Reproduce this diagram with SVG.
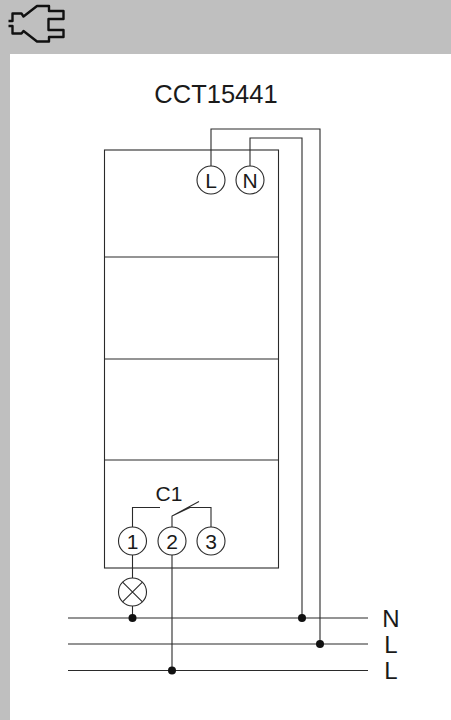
<svg xmlns="http://www.w3.org/2000/svg" width="451" height="720" viewBox="0 0 451 720">
<style>
.l{fill:none;stroke:#2a2a2a;stroke-width:1.1}
.c{fill:#fff;stroke:#2a2a2a;stroke-width:1.1}
.d{fill:#111;stroke:none}
text{font-family:"Liberation Sans",Arial,sans-serif;fill:#1a1a1a;text-anchor:middle}
.t{font-size:25.500px}
.m{font-size:21px}
.b{font-size:24px}
</style>
<g id="background">
<rect x="0" y="0" width="451" height="720" fill="#fff"/>
<rect x="0" y="0" width="451" height="54" fill="#bfbfbf"/>
<rect x="0" y="0" width="10" height="720" fill="#bfbfbf"/>
</g>
<g id="plug-icon">
<path d="M8.500 21H12.500V13.500H21.500L23.500 16.500L37 6H49V11H63.500V19H48.500V30H63.500V37H49V41.500H37L23.500 31L21.500 33.500H12.500V26H8.500" fill="none" stroke="#111" stroke-width="2.400" stroke-linejoin="round"/>
</g>
<text id="title" class="t" x="216" y="102.500">CCT15441</text>
<g id="device">
<rect class="l" x="104.500" y="150" width="174" height="418"/>
<path class="l" d="M104.500 257H278.500M104.500 359H278.500M104.500 460H278.500"/>
</g>
<g id="connectors">
<path class="l" d="M211 171V129H320V643"/>
<path class="l" d="M250 171V138H302V618"/>
<path class="l" d="M132.500 527V507.500H160M172 527V516L199 501.500M172 516L190 507.500H211V527"/>
<path class="l" d="M132.500 553V578M132.500 606V618M172 553V670"/>
<path class="l" d="M68 618H368M68 644H368M68 670.500H368"/>
<circle class="d" cx="132.500" cy="618" r="4"/>
<circle class="d" cx="302" cy="618" r="4"/>
<circle class="d" cx="320" cy="644" r="4"/>
<circle class="d" cx="172" cy="670.500" r="4"/>
</g>
<g id="terminal-L"><circle class="c" cx="211" cy="180" r="14"/><text class="m" x="211" y="187.500">L</text></g>
<g id="terminal-N"><circle class="c" cx="250" cy="180" r="14"/><text class="m" x="250" y="187.500">N</text></g>
<g id="terminal-1"><circle class="c" cx="132.500" cy="541" r="14"/><text class="m" x="132.500" y="548.500">1</text></g>
<g id="terminal-2"><circle class="c" cx="172" cy="541" r="14"/><text class="m" x="172" y="548.500">2</text></g>
<g id="terminal-3"><circle class="c" cx="211" cy="541" r="14"/><text class="m" x="211" y="548.500">3</text></g>
<g id="lamp"><circle class="c" cx="132.500" cy="592" r="14"/><path class="l" d="M122.600 582.100L142.400 601.900M142.400 582.100L122.600 601.900"/></g>
<text id="label-c1" class="m" x="169" y="500.500">C1</text>
<text id="label-n" class="b" x="391" y="627">N</text>
<text id="label-l1" class="b" x="391" y="653">L</text>
<text id="label-l2" class="b" x="391" y="679">L</text>
</svg>
